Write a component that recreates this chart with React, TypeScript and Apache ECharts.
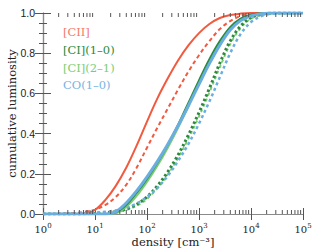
import React, { useEffect, useRef } from "react";
import * as echarts from "echarts";

// log10 of density [cm^-3]
const logDensity = [0, 0.2, 0.4, 0.6, 0.8, 1.0, 1.2, 1.4, 1.6, 1.8, 2.0, 2.2, 2.4, 2.6, 2.8, 3.0, 3.2, 3.4, 3.6, 3.8, 4.0, 4.2, 4.4, 4.6, 4.8, 5.0];

const ciiSolid = [0, 0, 0, 0, 0.002, 0.02, 0.07, 0.14, 0.23, 0.34, 0.46, 0.575, 0.675, 0.765, 0.84, 0.9, 0.945, 0.975, 0.99, 0.997, 1, 1, 1, 1, 1, 1];
const ciiDashed = [0, 0, 0.002, 0.005, 0.011, 0.022, 0.045, 0.085, 0.145, 0.23, 0.33, 0.43, 0.525, 0.62, 0.71, 0.79, 0.86, 0.92, 0.96, 0.985, 0.997, 1, 1, 1, 1, 1];
const ci10Solid = [0, 0, 0, 0, 0, 0, 0, 0.008, 0.045, 0.105, 0.175, 0.255, 0.345, 0.445, 0.555, 0.665, 0.77, 0.86, 0.93, 0.972, 0.992, 0.998, 1, 1, 1, 1];
const ci10Dashed = [0, 0, 0, 0, 0.001, 0.003, 0.006, 0.012, 0.025, 0.048, 0.085, 0.14, 0.21, 0.295, 0.395, 0.505, 0.625, 0.75, 0.86, 0.935, 0.977, 0.993, 1, 1, 1, 1];
const ci21Solid = [0, 0, 0, 0, 0, 0, 0, 0.004, 0.035, 0.09, 0.16, 0.24, 0.33, 0.43, 0.54, 0.65, 0.757, 0.85, 0.925, 0.97, 0.99, 0.998, 1, 1, 1, 1];
const ci21Dashed = [0, 0, 0, 0, 0, 0.002, 0.004, 0.009, 0.02, 0.04, 0.075, 0.128, 0.197, 0.28, 0.377, 0.485, 0.605, 0.73, 0.845, 0.925, 0.972, 0.99, 0.998, 1, 1, 1];
const coSolid = [0, 0, 0, 0, 0, 0, 0, 0.012, 0.055, 0.115, 0.185, 0.262, 0.347, 0.44, 0.54, 0.645, 0.748, 0.84, 0.915, 0.962, 0.986, 0.996, 1, 1, 1, 1];
const coDashed = [0, 0, 0, 0.002, 0.004, 0.007, 0.011, 0.018, 0.03, 0.052, 0.085, 0.13, 0.19, 0.265, 0.35, 0.45, 0.56, 0.68, 0.8, 0.895, 0.955, 0.985, 0.996, 1, 1, 1];

const legendLabels = ["[CII]", "[CI](1–0)", "[CI](2–1)", "CO(1–0)"];
const xTickExponents = ["0", "1", "2", "3", "4", "5"];
const yTickLabels = ["0.0", "0.2", "0.4", "0.6", "0.8", "1.0"];
const decades = [0, 1, 2, 3, 4];
const minorMultipliers = [2, 3, 4, 5, 6, 7, 8, 9];

const RED = "#f25a3f";
const DGREEN = "#2b8a3c";
const LGREEN = "#7ccd72";
const BLUE = "#6aaee0";
const AXIS = "#8a8a8a";
const TICK = "#555";
const SERIF = "DejaVu Serif";

export default function App() {
  const ref = useRef<HTMLDivElement>(null);
  useEffect(() => {
    document.body.style.margin = "0";
    const chart = echarts.init(ref.current!, null, { renderer: "svg" });
    const pts = (v: number[]) => logDensity.map((x, i) => [x, v[i]]);
    const bottomTicks: number[][] = [];
    const topTicks: number[][] = [];
    decades.forEach((d) =>
      minorMultipliers.forEach((k) => {
        bottomTicks.push([d + Math.log10(k), 0]);
        topTicks.push([d + Math.log10(k), 1]);
      })
    );

    const line = (data: number[], color: string, width: number, type: any, z: number) => ({
      type: "line",
      data: pts(data),
      showSymbol: false,
      smooth: 0.35,
      z,
      lineStyle: { color, width, type, cap: "butt" },
    });

    const tickSeries = (data: number[][], dir: number) => ({
      type: "custom",
      xAxisIndex: 0,
      yAxisIndex: 0,
      data,
      silent: true,
      clip: false,
      z: 20,
      renderItem: (params: any, api: any) => {
        const p = api.coord([api.value(0), api.value(1)]);
        return {
          type: "line",
          shape: { x1: p[0], y1: p[1], x2: p[0], y2: p[1] + dir * 4 },
          style: { stroke: TICK, lineWidth: 1 },
        };
      },
    });

    const axisLineStyle = { lineStyle: { color: AXIS, width: 1.2 } };

    chart.setOption({
      animation: false,
      backgroundColor: "#fff",
      grid: { left: 43, right: 16, top: 13, bottom: 35, outerBoundsMode: "none", containLabel: false },
      xAxis: [
        {
          type: "value",
          min: 0,
          max: 5,
          interval: 1,
          position: "bottom",
          axisLine: axisLineStyle,
          axisTick: { inside: true, length: 6, lineStyle: { color: TICK } },
          splitLine: { show: false },
          axisLabel: {
            margin: 8,
            fontFamily: SERIF,
            fontSize: 10,
            color: "#222",
            formatter: (v: number) => `10{s|${xTickExponents[Math.round(v)]}}`,
            rich: {
              s: { fontFamily: SERIF, fontSize: 7, color: "#222", padding: [0, 0, 7, 0] },
            },
          },
          name: "density [cm⁻³]",
          nameLocation: "middle",
          nameGap: 22,
          nameMoveOverlap: false,
          nameTextStyle: { fontFamily: SERIF, fontSize: 11.5, color: "#222" },
        },
        {
          type: "value",
          min: 0,
          max: 5,
          interval: 1,
          position: "top",
          axisLine: axisLineStyle,
          axisTick: { inside: true, length: 6, lineStyle: { color: TICK } },
          axisLabel: { show: false },
          splitLine: { show: false },
        },
      ],
      yAxis: [
        {
          type: "value",
          min: 0,
          max: 1,
          interval: 0.2,
          position: "left",
          axisLine: { show: true, ...axisLineStyle },
          axisTick: { show: true, inside: true, length: 8, lineStyle: { color: TICK } },
          minorTick: { show: true, splitNumber: 4, length: 4, lineStyle: { color: TICK } },
          splitLine: { show: false },
          axisLabel: {
            margin: 8,
            fontFamily: "Liberation Sans",
            fontSize: 10.5,
            color: "#222",
            formatter: (v: number) => yTickLabels[Math.round(v * 5)],
          },
          name: "cumulative luminosity",
          nameLocation: "middle",
          nameGap: 25,
          nameMoveOverlap: false,
          nameTextStyle: { fontFamily: SERIF, fontSize: 11.5, color: "#222" },
        },
        {
          type: "value",
          min: 0,
          max: 1,
          interval: 0.2,
          position: "right",
          axisLine: { show: true, ...axisLineStyle },
          axisTick: { show: true, inside: true, length: 8, lineStyle: { color: TICK } },
          minorTick: { show: true, splitNumber: 4, length: 4, lineStyle: { color: TICK } },
          splitLine: { show: false },
          axisLabel: { show: false },
        },
      ],
      series: [
        tickSeries(bottomTicks, -1),
        tickSeries(topTicks, 1),
        line(ciiDashed, RED, 2, [4, 3], 2),
        line(ci21Dashed, LGREEN, 2, [3, 3], 3),
        line(ci10Dashed, DGREEN, 3, [2.5, 2.5], 4),
        line(coDashed, BLUE, 2.5, [3, 3], 5),
        line(ciiSolid, RED, 2, "solid", 6),
        line(ci21Solid, LGREEN, 2, "solid", 7),
        line(ci10Solid, DGREEN, 2, "solid", 8),
        line(coSolid, BLUE, 3, "solid", 9),
      ],
      graphic: [RED, DGREEN, LGREEN, BLUE].map((c, i) => ({
        type: "text",
        left: 63,
        top: 26 + i * 17.8,
        style: {
          text: legendLabels[i],
          fill: i === 0 ? "#f37a66" : i === 3 ? "#78b4e2" : c,
          font: `11.5px '${SERIF}'`,
        },
      })),
    });
    return () => chart.dispose();
  }, []);
  return <div ref={ref} style={{ width: 319, height: 249 }} />;
}
